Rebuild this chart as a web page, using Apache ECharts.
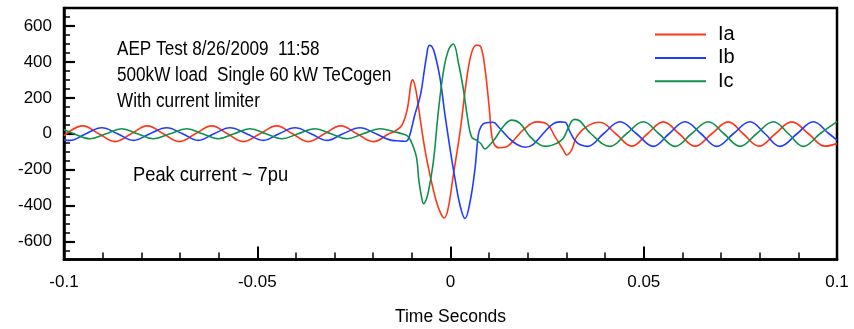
<!DOCTYPE html>
<html>
<head>
<meta charset="utf-8">
<script src="https://cdn.jsdelivr.net/npm/echarts@6/dist/echarts.min.js"></script>
<style>
html,body{margin:0;padding:0;background:#fff;}
#chart{width:854px;height:329px;}
</style>
</head>
<body>
<div id="chart"></div>
<script>
// ---- data (time in seconds, current in A) ----
const iaTime = [-0.1000,-0.09516,-0.09097,-0.08680,-0.08261,-0.07845,-0.07431,-0.07017,-0.06598,-0.06178,-0.05770,-0.05361,-0.04929,-0.04497,-0.04088,-0.03679,-0.03260,-0.02841,-0.02419,-0.01997,-0.01591,-0.01436,-0.01263,-0.01125,-0.00978,-0.00893,-0.00789,-0.00660,-0.00530,-0.00375,-0.00259,-0.00160,-0.00065,0.00072,0.00246,0.00419,0.00549,0.00678,0.00789,0.00893,0.01004,0.01066,0.01133,0.01255,0.01436,0.01643,0.01884,0.02230,0.02489,0.02704,0.02918,0.03006,0.03136,0.03265,0.03524,0.03868,0.04277,0.04688,0.05097,0.05506,0.05917,0.06326,0.06758,0.07188,0.07573,0.07982,0.08404,0.08828,0.09263,0.09689,0.1000];
const iaValue = [-11,44,0,-44,0,44,0,-44,0,44,0,-44,0,44,0,-44,0,44,0,-44,0,15,46,130,300,240,90,-90,-230,-370,-440,-469,-420,-232,9,306,453,494,481,361,139,-9,-60,-78,-74,-35,21,66,55,-16,-90,-118,-90,-16,40,64,0,-69,0,66,0,-69,0,66,0,-69,0,66,0,-69,-55];

const ibTime = [-0.1000,-0.09845,-0.09431,-0.09024,-0.08616,-0.08207,-0.07775,-0.07343,-0.06934,-0.06525,-0.06119,-0.05705,-0.05278,-0.04843,-0.04437,-0.04023,-0.03609,-0.03203,-0.02781,-0.02342,-0.01928,-0.01521,-0.01307,-0.01151,-0.01074,-0.00996,-0.00918,-0.00833,-0.00763,-0.00686,-0.00621,-0.00549,-0.00479,-0.00401,-0.00272,-0.00142,-0.00013,0.00116,0.00246,0.00375,0.00505,0.00634,0.00719,0.00789,0.00893,0.01100,0.01255,0.01514,0.01721,0.01928,0.02135,0.02393,0.02652,0.02833,0.02962,0.03092,0.03273,0.03545,0.03959,0.04385,0.04812,0.05247,0.05653,0.06067,0.06481,0.06887,0.07317,0.07749,0.08137,0.08525,0.08965,0.09387,0.09793,0.1000];
const ibValue = [-34,-37,0,33,0,-37,0,33,0,-37,0,33,0,-37,0,33,0,-37,0,33,0,-37,-40,-42,-20,40,110,170,230,340,430,492,485,441,311,104,-81,-250,-398,-472,-380,-194,-7,40,60,64,35,-25,-60,-75,-60,0,55,66,64,10,-50,-70,0,67,0,-70,0,67,0,-70,0,67,0,-70,0,67,0,-35];

const icTime = [-0.1000,-0.09741,-0.09327,-0.08913,-0.08507,-0.08098,-0.07689,-0.07257,-0.06825,-0.06417,-0.06008,-0.05602,-0.05188,-0.04774,-0.04367,-0.03946,-0.03506,-0.03092,-0.02686,-0.02264,-0.01824,-0.01436,-0.01255,-0.01092,-0.00962,-0.00875,-0.00815,-0.00750,-0.00699,-0.00634,-0.00574,-0.00445,-0.00316,-0.00186,-0.00057,0.00072,0.00202,0.00331,0.00445,0.00549,0.00678,0.00789,0.00893,0.01022,0.01151,0.01366,0.01583,0.01798,0.02057,0.02316,0.02489,0.02748,0.02918,0.03040,0.03144,0.03221,0.03351,0.03634,0.04127,0.04554,0.04988,0.05394,0.05809,0.06235,0.06670,0.07076,0.07490,0.07917,0.08352,0.08745,0.09128,0.09560,0.1000];
const icValue = [22,0,-28,0,28,0,-28,0,28,0,-28,0,28,0,-28,0,28,0,-28,0,28,10,0,-17,-72,-137,-267,-350,-389,-370,-324,-158,120,342,463,500,398,250,83,-19,-37,-56,-85,-61,-28,40,76,58,-16,-62,-70,-53,-25,30,72,80,70,0,-70,0,67,0,-70,0,67,0,-70,0,67,0,-70,0,67];

const seriesNames = ['Ia','Ib','Ic'];
const xTickLabels = [-0.1,-0.05,0,0.05,0.1];
const yTickLabels = [-600,-400,-200,0,200,400,600];
const yMinorTicks = [-650,-550,-500,-450,-350,-300,-250,-150,-100,-50,50,100,150,250,300,350,450,500,550,650];
const annotationLines = ['AEP Test 8/26/2009  11:58','500kW load  Single 60 kW TeCogen','With current limiter'];
const annotationPeak = 'Peak current ~ 7pu';

function pairs(t, v){ return t.map((x,i)=>[x, v[i]]); }

const FONT = 'Liberation Sans, Arial, Helvetica, sans-serif';
const colors = ['#ff3719','#1f3cff','#11904c'];

const chart = echarts.init(document.getElementById('chart'), null, {renderer:'canvas'});
const option = {
  animation: false,
  backgroundColor: '#fff',
  color: colors,
  grid: {left: 64, right: 17, top: 8, bottom: 69.5, containLabel: false, outerBoundsMode: 'none',
         show: true, borderColor: '#000', borderWidth: 2.5, backgroundColor: '#fff'},
  legend: {
    orient: 'vertical', left: 650, top: 19.2, padding: 5, itemWidth: 51, itemHeight: 2, itemGap: 2.8,
    icon: 'rect',
    data: seriesNames,
    textStyle: {fontFamily: FONT, fontSize: 20, color: '#000', lineHeight: 20.6, padding: [0,0,0,7]}
  },
  xAxis: {
    type: 'value', min: -0.1, max: 0.1, interval: 0.05,
    name: 'Time Seconds', nameLocation: 'middle', nameGap: 49,
    nameTextStyle: {fontFamily: FONT, fontSize: 17.5, color: '#000'},
    axisLine: {onZero: false, lineStyle: {color: '#000', width: 2.5}},
    axisTick: {inside: true, length: 13, lineStyle: {color: '#000', width: 2}},
    minorTick: {show: true, splitNumber: 5, length: 7, lineStyle: {color: '#000', width: 1.5}},
    splitLine: {show: false},
    axisLabel: {margin: 14.5, fontFamily: FONT, fontSize: 17, color: '#000',
      formatter: v => { const r = Math.round(v*100)/100; return xTickLabels.indexOf(r) >= 0 ? String(r) : ''; }}
  },
  yAxis: [{
    type: 'value', min: -700, max: 700,
    axisLine: {onZero: false, lineStyle: {color: '#000', width: 2.5}},
    axisTick: {inside: true, length: 11, customValues: yTickLabels, lineStyle: {color: '#000', width: 2.2}},
    splitLine: {show: false},
    axisLabel: {margin: 12, customValues: yTickLabels, fontFamily: FONT, fontSize: 17, color: '#000'}
  },{
    type: 'value', min: -700, max: 700, position: 'left',
    axisLine: {show: false, onZero: false},
    axisTick: {inside: true, length: 6, customValues: yMinorTicks, lineStyle: {color: '#000', width: 1.5}},
    splitLine: {show: false},
    axisLabel: {show: false}
  }],
  series: [
    {name: 'Ia', type: 'line', data: pairs(iaTime, iaValue)},
    {name: 'Ib', type: 'line', data: pairs(ibTime, ibValue)},
    {name: 'Ic', type: 'line', data: pairs(icTime, icValue)}
  ].map(s => Object.assign(s, {showSymbol: false, symbol: 'none', smooth: 0.4, lineStyle: {width: 1.6}, yAxisIndex: 0})),
  graphic: annotationLines.map((txt, i) => ({
    type: 'text', x: 117, y: 49 + i*26, scaleX: 0.857,
    style: {text: txt, fontFamily: FONT, fontSize: 20, fill: '#000', verticalAlign: 'middle'}
  })).concat([{
    type: 'text', x: 133, y: 175, scaleX: 0.915,
    style: {text: annotationPeak, fontFamily: FONT, fontSize: 20, fill: '#000', verticalAlign: 'middle'}
  }])
};
chart.setOption(option);
</script>
</body>
</html>
